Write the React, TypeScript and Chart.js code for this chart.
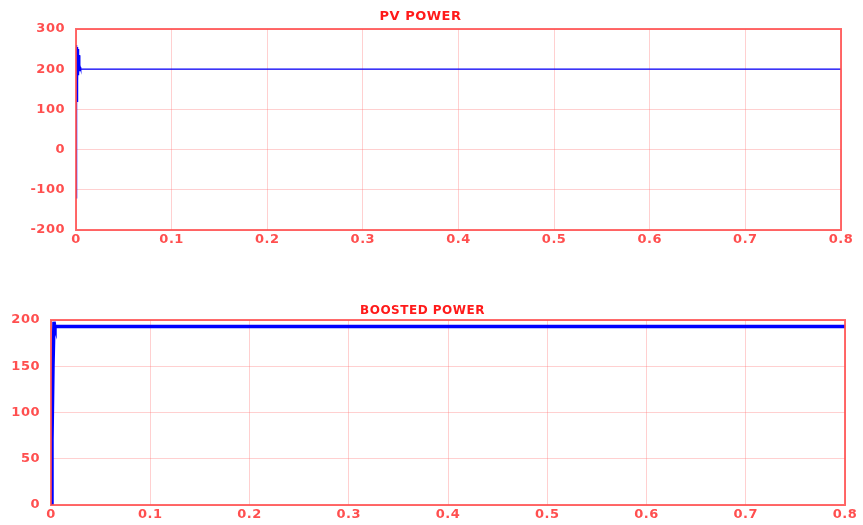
import React, { useEffect, useRef } from "react";
import { Chart, registerables } from "chart.js";
Chart.register(...registerables);

// PV power (W) vs time (s)
const pvTime = [0, 0.0003, 0.0006, 0.0009, 0.0012, 0.0015, 0.0018, 0.0021, 0.0024, 0.0027, 0.003, 0.0035, 0.004, 0.0045, 0.005, 0.1, 0.4, 0.8];
const pvPower = [-120, 260, 40, 258, 120, 255, 170, 250, 185, 245, 190, 235, 195, 205, 200, 200, 200, 200];
// Boosted power (W) vs time (s)
const boostTime = [0, 0.001, 0.002, 0.003, 0.0035, 0.004, 0.005, 0.1, 0.4, 0.8];
const boostPower = [0, 70, 150, 198, 195, 193, 193, 193, 193, 193];

const pvYTicks = [-200, -100, 0, 100, 200, 300];
const boostYTicks = [0, 50, 100, 150, 200];
const xTicks = [0, 0.1, 0.2, 0.3, 0.4, 0.5, 0.6, 0.7, 0.8];

const RED = "#ff4f4f";
const GRID = "rgba(255,120,120,0.35)";
const FONT = "'DejaVu Sans', 'Liberation Sans', Arial, sans-serif";

const boxPlugin = {
  id: "box",
  beforeDraw(chart: any) {
    try {
      chart.ctx.letterSpacing = "0.5px";
    } catch (e) {}
  },
  afterDraw(chart: any) {
    const { ctx, chartArea: a } = chart;
    ctx.save();
    ctx.strokeStyle = "rgba(255,80,80,0.85)";
    ctx.lineWidth = 2;
    ctx.strokeRect(a.left, a.top, a.right - a.left, a.bottom - a.top);
    ctx.restore();
  },
};

function makeConfig(opts: {
  title: string;
  xs: number[];
  ys: number[];
  yTicks: number[];
  yMin: number;
  yMax: number;
  yWidth: number;
  xHeight: number;
  padTop: number;
  padRight: number;
  lineWidth: number;
  titleSize: number;
  titlePadTop: number;
}) {
  return {
    type: "line" as const,
    data: {
      datasets: [
        {
          data: opts.xs.map((x, i) => ({ x, y: opts.ys[i] })),
          borderColor: "#0000ff",
          borderWidth: opts.lineWidth,
          pointRadius: 0,
          tension: 0,
          fill: false,
        },
      ],
    },
    options: {
      animation: false as const,
      responsive: false,
      layout: { padding: { top: 0, right: opts.padRight, bottom: 0, left: 0 } },
      plugins: {
        legend: { display: false },
        tooltip: { enabled: false },
        title: {
          display: true,
          text: opts.title,
          color: "#ff1a1a",
          font: { family: FONT, size: opts.titleSize, weight: "bold" as const },
          padding: { top: opts.titlePadTop, bottom: opts.padTop - opts.titlePadTop - opts.titleSize * 1.2 },
        },
      },
      scales: {
        x: {
          type: "linear" as const,
          min: 0,
          max: 0.8,
          afterBuildTicks(scale: any) {
            scale.ticks = xTicks.map((v) => ({ value: v }));
          },
          afterFit(scale: any) {
            scale.height = opts.xHeight;
          },
          ticks: {
            color: RED,
            font: { family: FONT, size: 13, weight: "bold" as const },
            padding: 2,
            maxRotation: 0,
            callback: (v: any) => String(Math.round(v * 10) / 10),
          },
          grid: { color: GRID, lineWidth: 1, tickLength: 0 },
          border: { display: false },
        },
        y: {
          min: opts.yMin,
          max: opts.yMax,
          afterBuildTicks(scale: any) {
            scale.ticks = opts.yTicks.map((v) => ({ value: v }));
          },
          afterFit(scale: any) {
            scale.width = opts.yWidth;
          },
          ticks: {
            color: RED,
            font: { family: FONT, size: 13, weight: "bold" as const },
            padding: 11,
          },
          grid: { color: GRID, lineWidth: 1, tickLength: 0 },
          border: { display: false },
        },
      },
    },
    plugins: [boxPlugin],
  };
}

function ChartBox(props: { config: any; width: number; height: number; top: number }) {
  const ref = useRef<HTMLCanvasElement | null>(null);
  useEffect(() => {
    if (!ref.current) return;
    const c = new Chart(ref.current, props.config);
    return () => c.destroy();
  }, []);
  return (
    <canvas
      ref={ref}
      width={props.width}
      height={props.height}
      style={{ position: "absolute", left: 0, top: props.top, width: props.width, height: props.height }}
    />
  );
}

export default function App() {
  const top = makeConfig({
    title: "PV POWER",
    xs: pvTime,
    ys: pvPower,
    yTicks: pvYTicks,
    yMin: -200,
    yMax: 300,
    yWidth: 76,
    xHeight: 25,
    padTop: 29,
    padRight: 22,
    lineWidth: 1.3,
    titleSize: 13,
    titlePadTop: 9,
  });
  const bottom = makeConfig({
    title: "BOOSTED POWER",
    xs: boostTime,
    ys: boostPower,
    yTicks: boostYTicks,
    yMin: 0,
    yMax: 200,
    yWidth: 51,
    xHeight: 20,
    padTop: 30,
    padRight: 18,
    lineWidth: 3.5,
    titleSize: 12,
    titlePadTop: 14,
  });
  return (
    <div style={{ position: "fixed", left: 0, top: 0, width: 863, height: 525, background: "#fff" }}>
      <ChartBox config={top} width={863} height={255} top={0} />
      <ChartBox config={bottom} width={863} height={235} top={290} />
    </div>
  );
}
